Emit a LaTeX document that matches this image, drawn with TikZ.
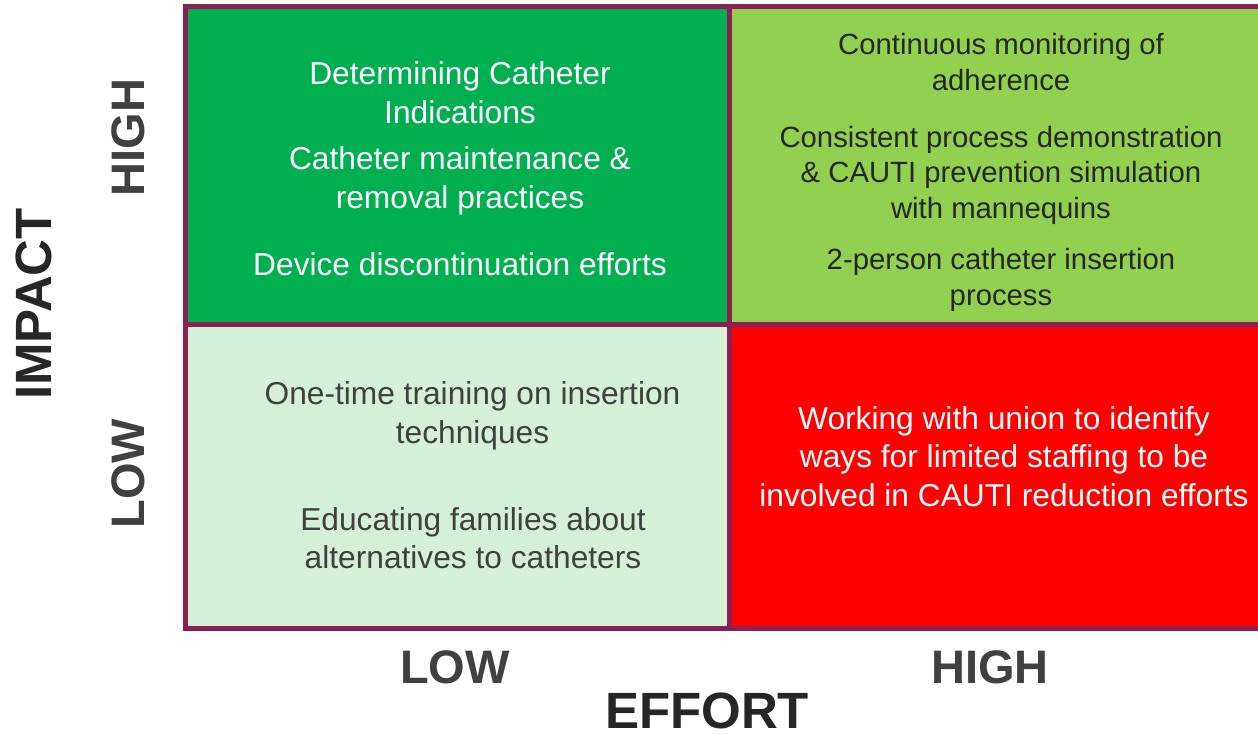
\documentclass[tikz,border=0pt]{standalone}
\usepackage{fontspec}
\setmainfont{Liberation Sans}
\usepackage{tikz}
\usetikzlibrary{positioning}

\definecolor{gridline}{RGB}{140,32,82}
\definecolor{quickwin}{RGB}{0,176,80}
\definecolor{majorproj}{RGB}{146,208,80}
\definecolor{fillin}{RGB}{212,241,215}
\definecolor{thankless}{RGB}{255,0,0}
\definecolor{darktext}{RGB}{38,38,38}
\definecolor{greytext}{RGB}{64,64,64}

\begin{document}
\begin{tikzpicture}[x=1pt,y=-1pt,
    cell/.style={line width=5pt,draw=gridline,line join=miter},
    item/.style={align=center,font=\fontsize{31.7}{38.5}\selectfont,inner sep=0pt},
    smallitem/.style={align=center,font=\fontsize{29.3}{35.5}\selectfont,inner sep=0pt},
    level/.style={font=\fontsize{47}{50}\selectfont\bfseries,text=greytext,inner sep=0pt},
    axis/.style={font=\fontsize{51}{55}\selectfont\bfseries,text=darktext,inner sep=0pt}]
  \clip (0,0) rectangle (1258,735);
  \fill[white] (0,0) rectangle (1258,735);

  % the four quadrants
  \path[cell,fill=quickwin]  (185.5,7) rectangle (729,324);
  \path[cell,fill=majorproj] (729,7) rectangle (1264,324);
  \path[cell,fill=fillin]    (185.5,324) rectangle (729,628);
  \path[cell,fill=thankless] (729,324) rectangle (1264,628);

  % high impact, low effort
  \node (indic) [item,text=white] at (460,92.5) {Determining Catheter\\Indications};
  \node (maint) [item,text=white] at (460,181) {Catheter maintenance \&\\removal practices};
  \node (disc)  [item,text=white] at (460,264) {Device discontinuation efforts};

  % high impact, high effort
  \node (monit) [smallitem,text=darktext] at (1001,62) {Continuous monitoring of\\adherence};
  \node (demo)  [smallitem,text=darktext] at (1001,175) {Consistent process demonstration\\\& CAUTI prevention simulation\\with mannequins};
  \node (twop)  [smallitem,text=darktext] at (1001,280) {2-person catheter insertion\\process};

  % low impact, low effort
  \node (train) [item,text=greytext] at (472.5,416) {One-time training on insertion\\techniques};
  \node (famil) [item,text=greytext] at (473,538) {Educating families about\\alternatives to catheters};

  % low impact, high effort
  \node (union) [item,text=white] at (1004,456.5) {Working with union to identify\\ways for limited staffing to be\\involved in CAUTI reduction efforts};

  % axis labels
  \node (impact) [axis,rotate=90] at (34,304) {IMPACT};
  \node (ihigh)  [level,rotate=90] at (128,137.5) {HIGH};
  \node (ilow)   [level,rotate=90] at (128,473.5) {LOW};
  \node (elow)   [level] at (455,667.5) {LOW};
  \node (ehigh)  [level] at (990,667.5) {HIGH};
  \node (effort) [axis] at (707,711) {EFFORT};
\end{tikzpicture}
\end{document}
